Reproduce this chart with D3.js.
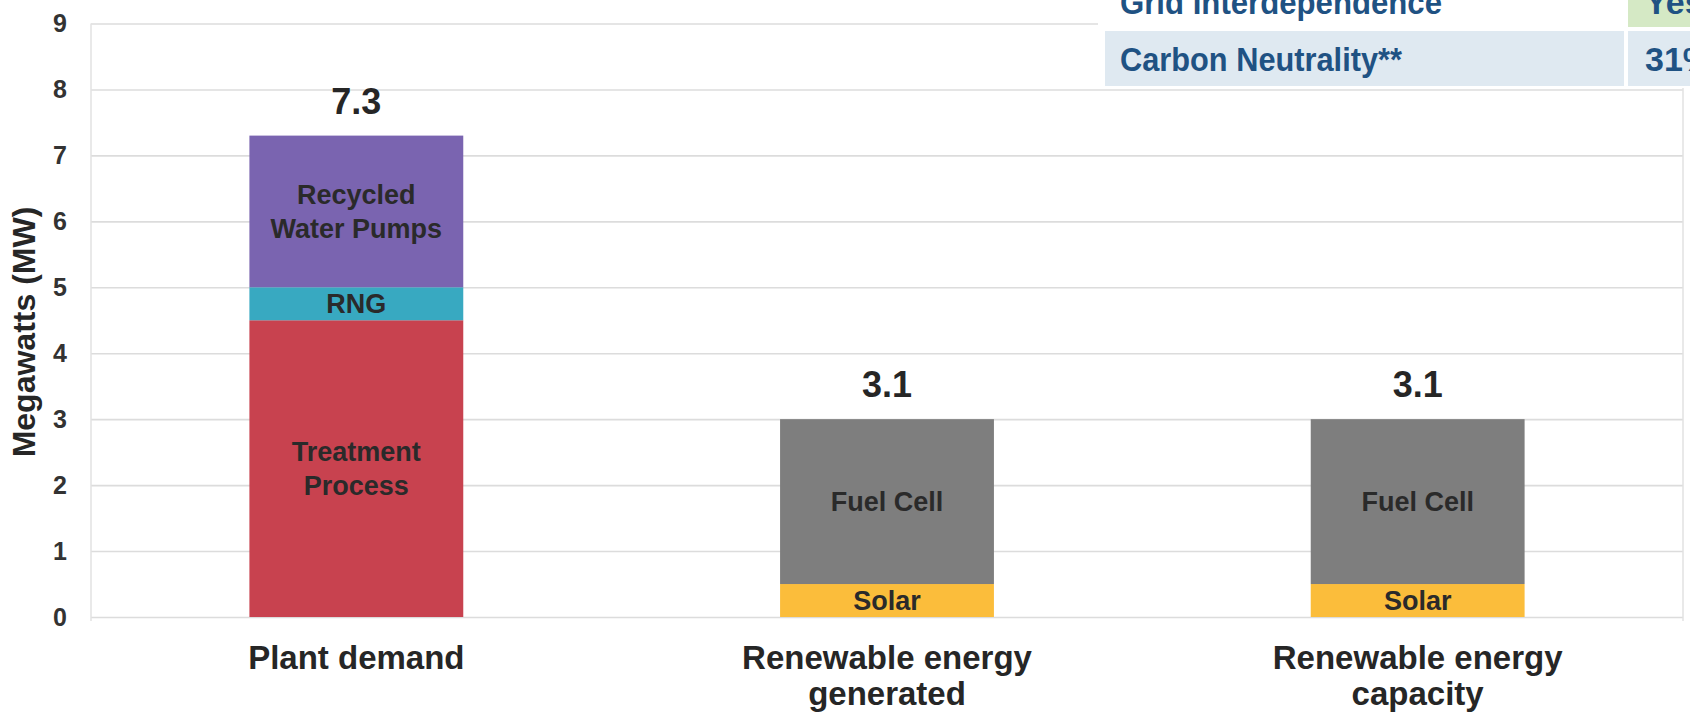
<!DOCTYPE html>
<html><head><meta charset="utf-8">
<script src="https://cdn.jsdelivr.net/npm/d3@7"></script>
<style>html,body{margin:0;padding:0;background:#fff;} svg{display:block;}</style>
</head><body><svg id="chart" width="1690" height="728"></svg>
<script>
// ---- data ----
const categories = ["Plant demand", "Renewable energy generated", "Renewable energy capacity"];
const categoryLines = [["Plant demand"], ["Renewable energy", "generated"], ["Renewable energy", "capacity"]];
const treatmentProcess = [4.5, 0, 0];
const rng = [0.5, 0, 0];
const recycledWaterPumps = [2.3, 0, 0];
const solar = [0, 0.5, 0.5];
const fuelCell = [0, 2.5, 2.5];
const totalLabels = ["7.3", "3.1", "3.1"];
const yTicks = [0, 1, 2, 3, 4, 5, 6, 7, 8, 9];
const seriesNames = ["Treatment Process", "RNG", "Recycled Water Pumps", "Solar", "Fuel Cell"];
const seriesLabelLines = [["Treatment", "Process"], ["RNG"], ["Recycled", "Water Pumps"], ["Solar"], ["Fuel Cell"]];
const seriesColors = ["#c8424f", "#38a9c1", "#7a64b0", "#fbbd3b", "#7e7e7e"];
const tableLabels = ["Grid Interdependence", "Carbon Neutrality**"];
const tableValues = ["Yes", "31%"];
const yTitle = "Megawatts (MW)";

// ---- build table for stack ----
const seriesValues = [treatmentProcess, rng, recycledWaterPumps, solar, fuelCell];
const rows = categories.map((c, i) => {
  const r = {category: c};
  seriesNames.forEach((s, k) => r[s] = seriesValues[k][i]);
  return r;
});
const stacked = d3.stack().keys(seriesNames)(rows);

const FONT = "'Liberation Sans', Arial, Helvetica, sans-serif";
const svg = d3.select("#chart").style("font-family", FONT);

const plotL = 91, plotR = 1683, plotB = 617, plotT = 23.5;
const x = d3.scaleBand().domain(categories).range([plotL, plotR]).paddingInner(0.597).paddingOuter(0.2985);
const y = d3.scaleLinear().domain([0, 9]).range([plotB, plotT]);

// gridlines + tick labels
const yAxis = svg.append("g").attr("transform", `translate(${plotL},0)`)
  .call(d3.axisLeft(y).tickValues(yTicks).tickSize(-(plotR - plotL)).tickPadding(24).tickFormat(d3.format("d")));
yAxis.select(".domain").remove();
yAxis.selectAll(".tick line").attr("stroke", "#dcdcdc").attr("stroke-width", 1.6);
yAxis.selectAll(".tick text").attr("fill", "#333").attr("font-size", 25).attr("font-weight", "bold")
  .attr("font-family", FONT);

// vertical frame lines
svg.append("line").attr("x1", plotL).attr("x2", plotL).attr("y1", y(9)).attr("y2", y(0) + 4)
  .attr("stroke", "#e2e2e2").attr("stroke-width", 1.5);
svg.append("line").attr("x1", plotR).attr("x2", plotR).attr("y1", y(9)).attr("y2", y(0) + 4)
  .attr("stroke", "#e2e2e2").attr("stroke-width", 1.5);

// bars
const layers = svg.append("g").selectAll("g").data(stacked).join("g")
  .attr("fill", (d, i) => seriesColors[i]);
layers.selectAll("rect").data(d => d.map(v => ({v, key: d.key}))).join("rect")
  .filter(d => d.v[1] - d.v[0] > 0)
  .attr("x", d => x(d.v.data.category))
  .attr("width", x.bandwidth())
  .attr("y", d => y(d.v[1]))
  .attr("height", d => y(d.v[0]) - y(d.v[1]));

// segment labels
const segLabels = svg.append("g");
stacked.forEach((layer, k) => {
  layer.forEach(v => {
    if (v[1] - v[0] <= 0) return;
    const cx = x(v.data.category) + x.bandwidth() / 2;
    const cy = (y(v[0]) + y(v[1])) / 2;
    const lines = seriesLabelLines[k];
    const lh = 34;
    const t = segLabels.append("text").attr("text-anchor", "middle")
      .attr("font-size", 27).attr("font-weight", "bold").attr("fill", "#2a2a2a");
    lines.forEach((ln, j) => {
      t.append("tspan").attr("x", cx)
        .attr("y", cy + (j - (lines.length - 1) / 2) * lh + 9.5)
        .text(ln);
    });
  });
});

// totals
const totals = categories.map((c, i) => d3.sum(seriesValues, s => s[i]));
svg.append("g").selectAll("text").data(categories).join("text")
  .attr("x", c => x(c) + x.bandwidth() / 2)
  .attr("y", (c, i) => y(totals[i]) - 22)
  .attr("text-anchor", "middle").attr("font-size", 36).attr("font-weight", "bold").attr("fill", "#262626")
  .text((c, i) => totalLabels[i]);

// category labels
const catG = svg.append("g");
categories.forEach((c, i) => {
  const t = catG.append("text").attr("text-anchor", "middle").attr("font-size", 33)
    .attr("font-weight", "bold").attr("fill", "#262626");
  categoryLines[i].forEach((ln, j) => {
    t.append("tspan").attr("x", x(c) + x.bandwidth() / 2).attr("y", 669 + j * 36).text(ln);
  });
});

// y axis title
svg.append("text")
  .attr("transform", `translate(35,332) rotate(-90)`)
  .attr("text-anchor", "middle").attr("font-size", 32).attr("font-weight", "bold").attr("fill", "#262626")
  .text(yTitle);

// overlaid table fragment (top right), cut off by the picture's right edge as in the source
const tbl = svg.append("g");
tbl.append("rect").attr("x", 1098).attr("y", 0).attr("width", 592).attr("height", 88).attr("fill", "#fff");
tbl.append("rect").attr("x", 1628).attr("y", 0).attr("width", 62).attr("height", 27).attr("fill", "#d5e9c5");
tbl.append("rect").attr("x", 1105).attr("y", 31).attr("width", 519).attr("height", 55).attr("fill", "#dfe9f1");
tbl.append("rect").attr("x", 1628).attr("y", 31).attr("width", 62).attr("height", 55).attr("fill", "#dfe9f1");
const tColor = "#1f5283";
const rowBase = [14, 71];
const labelWidths = [322, 282];
tableLabels.forEach((lab, i) => {
  tbl.append("text").attr("x", 1120).attr("y", rowBase[i]).attr("font-size", 34).attr("font-weight", "bold")
    .attr("fill", tColor).attr("textLength", labelWidths[i]).attr("lengthAdjust", "spacingAndGlyphs").text(lab);
  tbl.append("text").attr("x", 1645).attr("y", rowBase[i]).attr("font-size", 34).attr("font-weight", "bold")
    .attr("fill", tColor).text(tableValues[i]);
});
</script>
</body></html>
